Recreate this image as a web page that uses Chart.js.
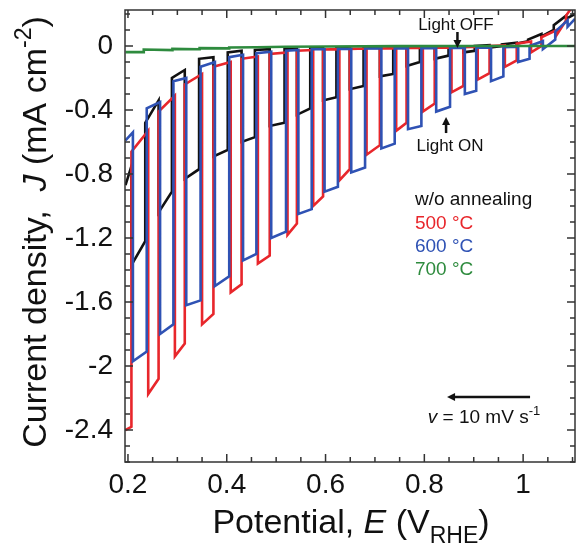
<!DOCTYPE html>
<html>
<head>
<meta charset="utf-8">
<script src="https://cdn.jsdelivr.net/npm/chart.js@4.4.1/dist/chart.umd.min.js"></script>
<style>
  html, body { margin: 0; padding: 0; background: #fff; }
  #chart { display: block; }
</style>
</head>
<body>
<canvas id="chart" width="576" height="552"></canvas>
<script>
const FONT = "'Liberation Sans', Arial, Helvetica, sans-serif";

// light chopping edges (V vs RHE), scan runs from high to low potential
const blueEdgeE = [1.105, 1.09, 1.065, 1.04, 1.013, 0.99, 0.96, 0.935, 0.905, 0.882,
  0.852, 0.824, 0.794, 0.767, 0.74, 0.713, 0.68, 0.652, 0.625, 0.598,
  0.572, 0.545, 0.52, 0.49, 0.46, 0.433, 0.405, 0.376, 0.347, 0.318,
  0.292, 0.265, 0.238, 0.21, 0.195];
const redEdgeE = [1.105, 1.087, 1.068, 1.037, 1.016, 0.987, 0.963, 0.932, 0.908, 0.879,
  0.855, 0.821, 0.797, 0.764, 0.743, 0.71, 0.683, 0.649, 0.628, 0.595,
  0.575, 0.542, 0.523, 0.487, 0.463, 0.43, 0.408, 0.373, 0.35, 0.315,
  0.295, 0.262, 0.241, 0.207, 0.195];
const blackEdgeE = [1.105, 1.087, 1.062, 1.037, 1.01, 0.987, 0.957, 0.932, 0.902, 0.879,
  0.849, 0.821, 0.791, 0.764, 0.737, 0.71, 0.677, 0.649, 0.622, 0.595,
  0.569, 0.542, 0.517, 0.487, 0.457, 0.43, 0.402, 0.373, 0.344, 0.315,
  0.289, 0.262, 0.235, 0.207, 0.195];

// current density (mA cm-2) at each edge, dark and illuminated branch
const redDark = [0.27, 0.19, 0.1, 0.055, 0.028, 0.015, 0.004, 0.0, -0.005, -0.008,
  -0.01, -0.01, -0.012, -0.012, -0.013, -0.015, -0.016, -0.018, -0.02, -0.022,
  -0.025, -0.03, -0.04, -0.05, -0.065, -0.08, -0.1, -0.13, -0.175, -0.24,
  -0.31, -0.41, -0.53, -0.66, null];
const redLight = [null, 0.16, 0.07, 0.0, -0.04, -0.09, -0.13, -0.17, -0.21, -0.25,
  -0.29, -0.36, -0.41, -0.48, -0.53, -0.62, -0.68, -0.77, -0.84, -0.94,
  -1.0, -1.11, -1.18, -1.31, -1.36, -1.49, -1.54, -1.675, -1.74, -1.86,
  -1.94, -2.08, -2.175, -2.38, -2.4];

const blueDark = [null, 0.16, 0.09, 0.03, 0.0, -0.005, -0.008, -0.01, -0.01, -0.012,
  -0.012, -0.013, -0.013, -0.014, -0.015, -0.015, -0.016, -0.017, -0.018, -0.02,
  -0.02, -0.025, -0.03, -0.035, -0.045, -0.055, -0.07, -0.1, -0.13, -0.2,
  -0.22, -0.35, -0.39, -0.54, -0.59];
const blueLight = [0.17, 0.12, 0.04, -0.02, -0.08, -0.1, -0.19, -0.22, -0.28, -0.3,
  -0.38, -0.41, -0.5, -0.52, -0.61, -0.64, -0.76, -0.79, -0.88, -0.91,
  -1.02, -1.05, -1.16, -1.2, -1.3, -1.34, -1.44, -1.5, -1.59, -1.62,
  -1.74, -1.8, -1.91, -1.97, null];

const blackDark = [null, 0.19, 0.13, 0.075, 0.04, 0.02, 0.01, 0.005, 0.0, -0.003,
  -0.005, -0.006, -0.008, -0.01, -0.01, -0.012, -0.012, -0.013, -0.014, -0.015,
  -0.015, -0.016, -0.018, -0.02, -0.025, -0.03, -0.04, -0.07, -0.08, -0.15,
  -0.2, -0.34, -0.48, -0.75, -0.87];
const blackLight = [0.2, 0.17, 0.1, 0.06, 0.03, 0.015, 0.0, -0.01, -0.03, -0.04,
  -0.06, -0.08, -0.1, -0.125, -0.175, -0.19, -0.25, -0.27, -0.32, -0.34,
  -0.39, -0.43, -0.48, -0.5, -0.57, -0.6, -0.65, -0.69, -0.77, -0.83,
  -0.91, -1.04, -1.22, -1.37, null];

const greenE = [0.195, 0.232, 0.232, 0.29, 0.29, 0.345, 0.345, 0.405, 0.405, 0.46, 0.52, 0.6, 0.75, 0.9, 1.105];
const greenJ = [-0.038, -0.038, -0.022, -0.026, -0.018, -0.02, -0.013, -0.015, -0.009, -0.008, -0.005, -0.003, -0.001, 0.0, 0.0];

const xTickValues = [0.2, 0.4, 0.6, 0.8, 1.0];
const yTickValues = [0, -0.4, -0.8, -1.2, -1.6, -2, -2.4];

// light is on in every other interval; phase says which ones
function chopped(edges, dark, light, phase) {
  const pts = [];
  for (let k = 0; k < edges.length - 1; k++) {
    const vals = k % 2 === phase ? light : dark;
    pts.push({ x: edges[k], y: vals[k] }, { x: edges[k + 1], y: vals[k + 1] });
  }
  return pts;
}

function fontOf(p) {
  return `${p.italic ? "italic " : ""}${p.size}px ${FONT}`;
}

function drawRich(ctx, parts, x, y, align) {
  let total = 0;
  parts.forEach(p => {
    ctx.font = fontOf(p);
    p.w = ctx.measureText(p.t).width;
    total += p.w;
  });
  let cx = align === "center" ? x - total / 2 : x;
  ctx.textAlign = "left";
  ctx.textBaseline = "alphabetic";
  parts.forEach(p => {
    ctx.font = fontOf(p);
    ctx.fillStyle = p.color || "#111";
    ctx.fillText(p.t, cx, y + (p.dy || 0));
    cx += p.w;
  });
}

function arrow(ctx, x1, y1, x2, y2) {
  const ang = Math.atan2(y2 - y1, x2 - x1);
  const head = 8;
  ctx.strokeStyle = "#111";
  ctx.fillStyle = "#111";
  ctx.lineWidth = 2.5;
  ctx.beginPath();
  ctx.moveTo(x1, y1);
  ctx.lineTo(x2 - Math.cos(ang) * head * 0.8, y2 - Math.sin(ang) * head * 0.8);
  ctx.stroke();
  ctx.beginPath();
  ctx.moveTo(x2, y2);
  ctx.lineTo(x2 - Math.cos(ang) * head - Math.sin(ang) * head * 0.5, y2 - Math.sin(ang) * head + Math.cos(ang) * head * 0.5);
  ctx.lineTo(x2 - Math.cos(ang) * head + Math.sin(ang) * head * 0.5, y2 - Math.sin(ang) * head - Math.cos(ang) * head * 0.5);
  ctx.closePath();
  ctx.fill();
}

const frame = {
  id: "frame",
  afterDatasetsDraw(chart) {
    const { ctx, chartArea: a, scales: { x, y } } = chart;
    ctx.save();
    ctx.strokeStyle = "#333";
    ctx.lineWidth = 1.5;
    ctx.strokeRect(a.left, a.top, a.right - a.left, a.bottom - a.top);
    ctx.beginPath();
    for (let v = 0.2; v <= x.max + 1e-9; v += 0.05) {
      const px = x.getPixelForValue(v);
      const len = Math.abs(v * 10 - Math.round(v * 10)) < 1e-6 && Math.round(v * 10) % 2 === 0 ? 8 : 5;
      ctx.moveTo(px, a.bottom); ctx.lineTo(px, a.bottom - len);
      ctx.moveTo(px, a.top); ctx.lineTo(px, a.top + len);
    }
    for (let v = 0.2; v >= y.min - 1e-9; v -= 0.1) {
      const py = y.getPixelForValue(v);
      const len = Math.abs(Math.round(v * 10) % 4) === 0 ? 8 : 5;
      ctx.moveTo(a.left, py); ctx.lineTo(a.left + len, py);
      ctx.moveTo(a.right, py); ctx.lineTo(a.right - len, py);
    }
    ctx.stroke();
    ctx.restore();
  }
};

const notes = {
  id: "notes",
  afterDraw(chart) {
    const { ctx, chartArea: a, scales: { x, y } } = chart;
    const X = v => x.getPixelForValue(v);
    const Y = v => y.getPixelForValue(v);
    ctx.save();

    drawRich(ctx, [{ t: "Light OFF", size: 17 }], X(0.864), Y(0.1), "center");
    arrow(ctx, X(0.867), Y(0.0875), X(0.867), Y(-0.0125));
    drawRich(ctx, [{ t: "Light ON", size: 17 }], X(0.852), Y(-0.656), "center");
    arrow(ctx, X(0.844), Y(-0.544), X(0.844), Y(-0.444));

    drawRich(ctx, [{ t: "w/o annealing", size: 19, color: "#111" }], X(0.781), Y(-0.994), "left");
    drawRich(ctx, [{ t: "500 °C", size: 19, color: "#e8262b" }], X(0.781), Y(-1.144), "left");
    drawRich(ctx, [{ t: "600 °C", size: 19, color: "#2f52b4" }], X(0.781), Y(-1.288), "left");
    drawRich(ctx, [{ t: "700 °C", size: 19, color: "#2e8b3e" }], X(0.781), Y(-1.431), "left");

    arrow(ctx, X(1.014), Y(-2.194), X(0.846), Y(-2.194));
    drawRich(ctx, [
      { t: "v", size: 19, italic: true },
      { t: " = 10 mV s", size: 19 },
      { t: "-1", size: 13, dy: -8 }
    ], X(0.807), Y(-2.356), "left");

    // axis titles
    drawRich(ctx, [
      { t: "Potential, ", size: 34 },
      { t: "E", size: 34, italic: true },
      { t: " (V", size: 34 },
      { t: "RHE", size: 23, dy: 10 },
      { t: ")", size: 34 }
    ], (a.left + a.right) / 2 + 1, 533, "center");

    ctx.translate(46, 232);
    ctx.rotate(-Math.PI / 2);
    drawRich(ctx, [
      { t: "Current density,  ", size: 34 },
      { t: "J", size: 34, italic: true },
      { t: " (mA cm", size: 34 },
      { t: "-2", size: 23, dy: -15 },
      { t: ")", size: 34 }
    ], 0, 0, "center");
    ctx.restore();
  }
};

const line = (label, data, color, order) => ({
  label, data, borderColor: color, borderWidth: 2.6, pointRadius: 0,
  showLine: true, tension: 0, fill: false, order
});

new Chart(document.getElementById("chart"), {
  type: "scatter",
  data: {
    datasets: [
      line("700 °C", greenE.map((e, i) => ({ x: e, y: greenJ[i] })), "#2e8b3e", 0),
      line("600 °C", chopped(blueEdgeE, blueDark, blueLight, 0), "#2f52b4", 1),
      line("500 °C", chopped(redEdgeE, redDark, redLight, 1), "#e8262b", 2),
      line("w/o annealing", chopped(blackEdgeE, blackDark, blackLight, 0), "#111111", 3)
    ]
  },
  options: {
    responsive: false,
    animation: false,
    layout: { padding: { top: 10, right: 1, left: 0, bottom: 0 } },
    plugins: { legend: { display: false }, tooltip: { enabled: false } },
    scales: {
      x: {
        type: "linear", min: 0.194, max: 1.105,
        afterFit: s => { s.height = 90; s.paddingLeft = 0; s.paddingRight = 0; },
        afterBuildTicks: s => { s.ticks = xTickValues.map(v => ({ value: v })); },
        ticks: {
          callback: v => String(Math.round(v * 10) / 10),
          font: { size: 28, family: FONT }, color: "#111", padding: 6,
          maxRotation: 0, autoSkip: false
        },
        grid: { display: false, drawTicks: false },
        border: { display: false }
      },
      y: {
        type: "linear", min: -2.6, max: 0.225,
        afterFit: s => { s.width = 125; s.paddingTop = 0; s.paddingBottom = 0; },
        afterBuildTicks: s => { s.ticks = yTickValues.map(v => ({ value: v })); },
        ticks: {
          callback: v => String(Math.round(v * 10) / 10),
          font: { size: 28, family: FONT }, color: "#111", padding: 12,
          autoSkip: false
        },
        grid: { display: false, drawTicks: false },
        border: { display: false }
      }
    }
  },
  plugins: [frame, notes]
});
</script>
</body>
</html>
